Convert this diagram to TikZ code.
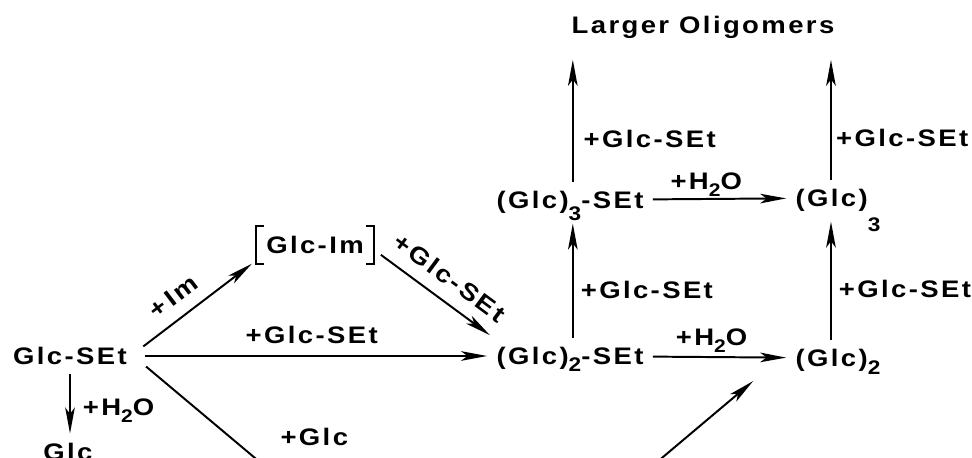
\documentclass[tikz,border=0pt]{standalone}
\usepackage{fontspec}
\usetikzlibrary{arrows.meta,calc}
\newfontfamily\figfamily{Liberation Sans}[LetterSpace=10,FakeStretch=1.15]
\newcommand{\figfont}{\figfamily\bfseries\fontsize{17}{20}\selectfont}
% lowered subscript, optional drop of its baseline
\newcommand{\lsub}[2][5pt]{\raisebox{-#1}{\fontsize{14}{14}\selectfont #2}}
\newcommand{\hsub}[1]{\raisebox{-5pt}{\fontsize{13}{13}\selectfont #1}}
\tikzset{
  base/.style={font=\figfont, text height=12.2pt, text depth=0pt},
  spec/.style={base, inner sep=6.5pt},
  lbl/.style={base, inner sep=0pt},
  arr/.style={-{Stealth[length=6.5mm,width=2.4mm,inset=1.6mm]}, line width=1.4pt},
  plain/.style={line width=1.4pt},
}
\begin{document}
\begin{tikzpicture}[x=0.025cm,y=-0.025cm]
  \useasboundingbox (0,0) rectangle (972,458);
  \node[spec] (lo)  at (703,25)    {Larger Oligomers};
  \node[spec] (g3s) at (570,200)   {(Glc)\lsub[8.5pt]{3}-SEt};
  \node[spec] (g3)  at (838,198)   {(Glc)\lsub[17.5pt]{3}};
  \node[spec,inner xsep=7pt,inner ysep=7pt] (gim) at (315,245) {Glc-Im};
  \node[spec] (gse) at (70,356)    {Glc-SEt};
  \node[spec] (g2s) at (570,356)   {(Glc)\lsub{2}-SEt};
  \node[spec] (g2)  at (838,358)   {(Glc)\lsub[5.7pt]{2}};
  \node[spec] (glc) at (68,451.5)  {Glc};
  \coordinate (dl) at (305,500);
  \coordinate (dr) at (612,500);
  % brackets round the intermediate
  \draw[plain] ([xshift=5.5pt]gim.north west) -- (gim.north west) -- (gim.south west) -- ([xshift=5.5pt]gim.south west);
  \draw[plain] ([xshift=-5.5pt]gim.north east) -- (gim.north east) -- (gim.south east) -- ([xshift=-5.5pt]gim.south east);
  % from the thioglycoside
  \draw[arr] ([shift={(5pt,6.8pt)}]gse.east) -- ([xshift=-3pt]gim.south west)
    node[pos=0.4,sloped,above=8.8pt,lbl]{+\,Im};
  \draw[arr] ([shift={(5pt,-7pt)}]gim.east) -- ([shift={(2pt,2pt)}]g2s.north west)
    node[pos=0.51,sloped,above=9.3pt,lbl]{+Glc-SEt};
  \draw[arr,shorten <=6pt] (gse) -- (g2s) node[midway,above=8.5pt,lbl]{+Glc-SEt};
  \draw[arr] (gse.south) -- (gse.south |- glc.north) node[pos=0.56,right=8.5pt,lbl]{+H\hsub{2}O};
  \draw[plain] ([shift={(7pt,-7.5pt)}]gse.east) -- (dl)
    node[pos=0.84,xshift=24.7pt,yshift=29.4pt,lbl]{+Glc};
  \draw[arr] (dr) -- ([shift={(-23.5pt,-3.6pt)}]g2.south west);
  % hydrolysis
  \draw[arr] (g2s) -- (g2) node[pos=0.44,above=7.5pt,lbl]{+H\hsub{2}O};
  \draw[arr] (g3s) -- (g3) node[pos=0.4,above=6.1pt,lbl]{+H\hsub{2}O};
  % chain growth
  \draw[arr,shorten >=4pt] ([xshift=2pt]g2s.north) -- ([xshift=2pt]g3s.south)
    node[pos=0.4,right=5pt,lbl]{+Glc-SEt};
  \draw[arr,shorten >=4pt] ([xshift=-5pt]g2.north) -- ([xshift=-5pt]g3.south)
    node[pos=0.41,right=5pt,lbl]{+Glc-SEt};
  \draw[arr,shorten >=12pt] ([xshift=2pt]g3s.north) -- ([xshift=2pt]g3s.north |- lo.south)
    node[pos=0.31,right=7pt,lbl]{+Glc-SEt};
  \draw[arr,shorten >=12pt] ([xshift=-5pt]g3.north) -- ([xshift=-5pt]g3.north |- lo.south)
    node[pos=0.31,right=3pt,lbl]{+Glc-SEt};
\end{tikzpicture}
\end{document}
